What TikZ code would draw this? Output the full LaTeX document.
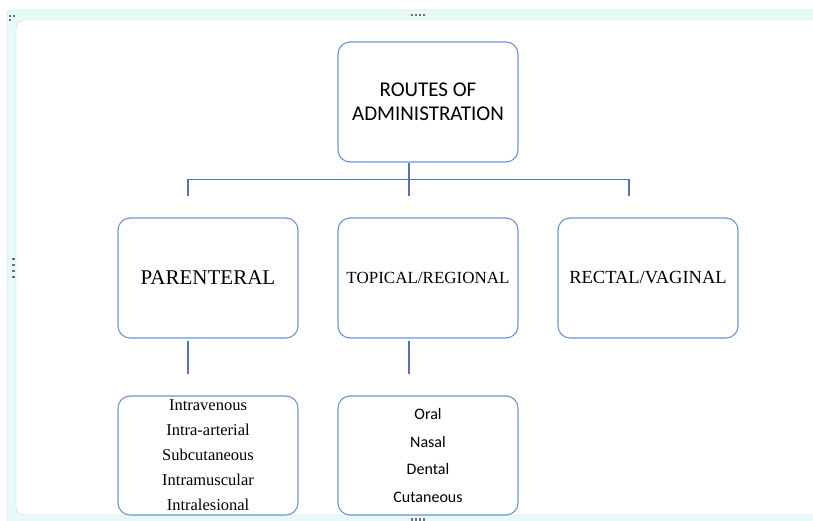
\documentclass[tikz,border=0pt]{standalone}
\usepackage{fontspec}
\setmainfont{Liberation Serif}
\newfontfamily\calibri{Carlito}
\usetikzlibrary{calc}
\definecolor{boxblue}{HTML}{7092D6}
\definecolor{linkblue}{HTML}{5573B5}
\definecolor{frameCyan}{HTML}{E6FAFA}
\definecolor{frameGray}{HTML}{C8CED2}
\definecolor{dotGray}{HTML}{707070}
\tikzset{
  routebox/.style={draw=boxblue, line width=1.1pt, rounded corners=12pt, fill=white,
    minimum width=180pt, minimum height=120pt, inner sep=0pt, align=center},
  link/.style={draw=linkblue, line width=1.1pt},
  handle/.style={fill=dotGray}
}

\begin{document}
\begin{tikzpicture}[x=1pt, y=-1pt]
\useasboundingbox (0,0) rectangle (813,521);
\clip (0,0) rectangle (813,521);
% --- Canvas frame ---
\draw[fill=frameCyan, draw=frameGray, rounded corners=4pt] (7,10) rectangle (840,540);
\draw[fill=white, draw=frameGray, rounded corners=8pt] (16,20) rectangle (830,515);
% handles
\foreach \x in {411,415,419,423} {
  \fill[handle] (\x,14) rectangle ++(2,2.5);
  \fill[handle] (\x,518) rectangle ++(2,2.5);
}
\foreach \y in {258,264,270,276} {
  \fill[handle] (12,\y) rectangle ++(2.5,2);
}
\fill[handle] (9,15) rectangle ++(2,2);
\fill[handle] (12.5,15) rectangle ++(2,2);
\fill[handle] (9,19) rectangle ++(2,2);
% --- Boxes ---
\node[routebox, font=\calibri\fontsize{21}{24}\selectfont] (root) at (428,102) {ROUTES OF\\ADMINISTRATION};
\node[routebox, font=\fontsize{21}{24}\selectfont] (par) at (208,278) {PARENTERAL};
\node[routebox, font=\fontsize{17}{20}\selectfont] (top) at (428,278) {TOPICAL/REGIONAL};
\node[routebox, font=\fontsize{18.5}{20}\selectfont] (rec) at (648,278) {RECTAL/VAGINAL};
\node[routebox, minimum height=119pt, font=\fontsize{16.5}{25}\selectfont] (parlist) at (208,455.5)
  {Intravenous\\Intra-arterial\\Subcutaneous\\Intramuscular\\Intralesional};
\node[routebox, minimum height=119pt, font=\calibri\fontsize{16}{27.5}\selectfont] (toplist) at (428,455.5)
  {Oral\\Nasal\\Dental\\Cutaneous};
% --- Connectors ---
\draw[link] ([xshift=-19pt]root.south) -- ([xshift=-19pt, yshift=21pt]top.north);
\draw[link] ([xshift=-20pt, yshift=21pt]par.north) -- ++(0,-17) -| ([xshift=-19pt, yshift=21pt]rec.north);
\draw[link] ([xshift=-20pt, yshift=-2pt]par.south) -- ++(0,33);
\draw[link] ([xshift=-19pt, yshift=-2pt]top.south) -- ++(0,33);
\end{tikzpicture}
\end{document}
